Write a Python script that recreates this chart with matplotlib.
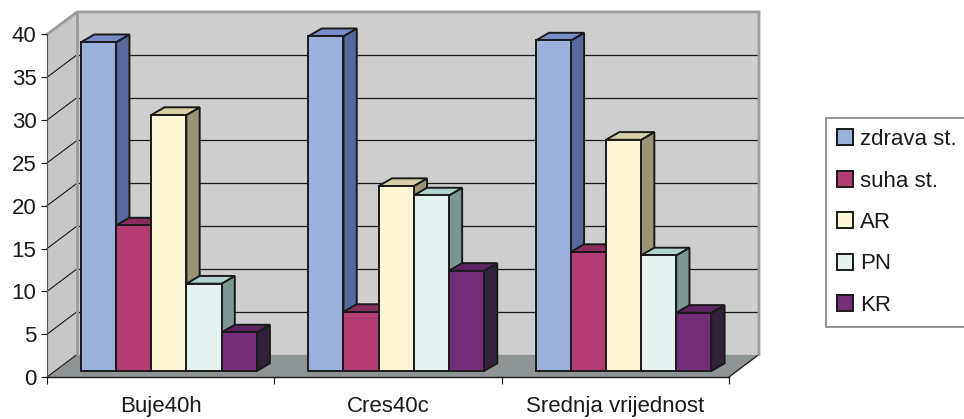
import matplotlib.pyplot as plt
from matplotlib.patches import Polygon

categories = ["Buje40h", "Cres40c", "Srednja vrijednost"]
series = ["zdrava st.", "suha st.", "AR", "PN", "KR"]
zdrava = [38.4, 39.1, 38.6]
suha = [17.0, 6.9, 13.9]
ar = [29.9, 21.6, 27.0]
pn = [10.2, 20.5, 13.5]
kr = [4.5, 11.7, 6.8]
values = [zdrava, suha, ar, pn, kr]
yticks = list(range(0, 41, 5))

front_c = ["#9cb0dc", "#b33c75", "#fcf5d6", "#e5f2f0", "#742d79"]
top_c = ["#7a8cc8", "#8a2f5d", "#d9d0a8", "#b1d4d1", "#5a2560"]
side_c = ["#56689c", "#5e2040", "#9a9477", "#7b9794", "#32213a"]

plt.rcParams['font.family'] = ['Liberation Sans', 'DejaVu Sans']

fig = plt.figure(figsize=(9.64, 4.19), dpi=100)
ax = fig.add_axes([47 / 964, 42 / 419, 682 / 964, 342.5 / 419])
ax.set_xlim(0, 3)
ax.set_ylim(0, 40)
ymax = 40

# oblique offset of the back wall (in data units)
DX, DY = 0.132, 2.63
# bar layout inside a category
bar_w = 0.1545
x0 = 0.1496
bar_bottom = 0.70
SX, SY = 0.0585, 0.90

n = len(categories)
# walls and floor
ax.add_patch(Polygon([(0, 0), (DX, DY), (DX, ymax + DY), (0, ymax)],
                     closed=True, fc="#c6c6c6", ec="none", zorder=0, clip_on=False))
ax.add_patch(Polygon([(DX, DY), (n + DX, DY), (n + DX, ymax + DY), (DX, ymax + DY)],
                     closed=True, fc="#cecece", ec="none", zorder=0, clip_on=False))
ax.add_patch(Polygon([(0, 0), (n, 0), (n + DX, DY), (DX, DY)],
                     closed=True, fc="#8e9393", ec="none", zorder=0.5, clip_on=False))

for v in yticks[1:-1]:
    ax.plot([DX, n + DX], [v + DY, v + DY], color="#1a1a1a", lw=0.9, zorder=1, clip_on=False)
    ax.plot([0, DX], [v, v + DY], color="#1a1a1a", lw=0.8, zorder=1, clip_on=False)

edge = "#9c9c9c"
ax.plot([0, DX, n + DX, n + DX], [ymax, ymax + DY, ymax + DY, DY],
        color=edge, lw=2, zorder=1.2, clip_on=False, solid_joinstyle="miter")
ax.plot([DX, DX], [DY, ymax + DY], color=edge, lw=2, zorder=1.2, clip_on=False)
ax.plot([0, DX], [0, DY], color="#1a1a1a", lw=0.8, zorder=1, clip_on=False)
ax.plot([n, n + DX], [0, DY], color="#1a1a1a", lw=0.9, zorder=1, clip_on=False)

# bars: side, top and front face for each series, left to right
for k, (name, vals) in enumerate(zip(series, values)):
    z = 3 + k
    xs = [i + x0 + k * bar_w for i in range(n)]
    for x, v in zip(xs, vals):
        top = v + bar_bottom
        ax.add_patch(Polygon([(x + bar_w, bar_bottom), (x + bar_w + SX, bar_bottom + SY),
                              (x + bar_w + SX, top + SY), (x + bar_w, top)],
                             closed=True, fc=side_c[k], ec="#1a1a1a", lw=1.4,
                             zorder=z, clip_on=False, joinstyle="miter"))
        ax.add_patch(Polygon([(x, top), (x + bar_w, top), (x + bar_w + SX, top + SY), (x + SX, top + SY)],
                             closed=True, fc=top_c[k], ec="#1a1a1a", lw=1.4,
                             zorder=z, clip_on=False, joinstyle="miter"))
    ax.bar(xs, vals, width=bar_w, bottom=bar_bottom, align="edge", color=front_c[k],
           edgecolor="#1a1a1a", linewidth=1.4, label=name, zorder=z + 0.5, clip_on=False)

for s in ["top", "right"]:
    ax.spines[s].set_visible(False)
ax.spines["left"].set_color("#555555")
ax.spines["left"].set_linewidth(0.8)
ax.spines["bottom"].set_color("#1a1a1a")
ax.spines["bottom"].set_linewidth(1.0)
ax.spines["left"].set_zorder(2)
ax.spines["bottom"].set_zorder(2)

fs = 16
ax.set_yticks(yticks)
ax.tick_params(axis="y", length=4.5, width=0.8, color="#1a1a1a", labelsize=fs,
               labelcolor="#1a1a1a", pad=3)
ax.set_xticks([i + 0.5 for i in range(n)], categories)
ax.set_xticks(range(n + 1), minor=True)
ax.tick_params(axis="x", which="major", length=0, labelsize=fs, labelcolor="#1a1a1a", pad=14)
ax.tick_params(axis="x", which="minor", length=5, width=0.8, color="#1a1a1a")

leg = ax.legend(loc="upper left", bbox_to_anchor=(826 / 964, 1 - 118 / 419),
                bbox_transform=fig.transFigure, borderaxespad=0, fontsize=fs,
                frameon=True, fancybox=False, edgecolor="#808080", framealpha=1,
                handlelength=0.72, handleheight=0.72, handletextpad=0.3,
                labelspacing=0.92, borderpad=0.5)
leg.get_frame().set_linewidth(1.2)
for t in leg.get_texts():
    t.set_color("#1a1a1a")

fig.savefig("out.png", dpi=100)
